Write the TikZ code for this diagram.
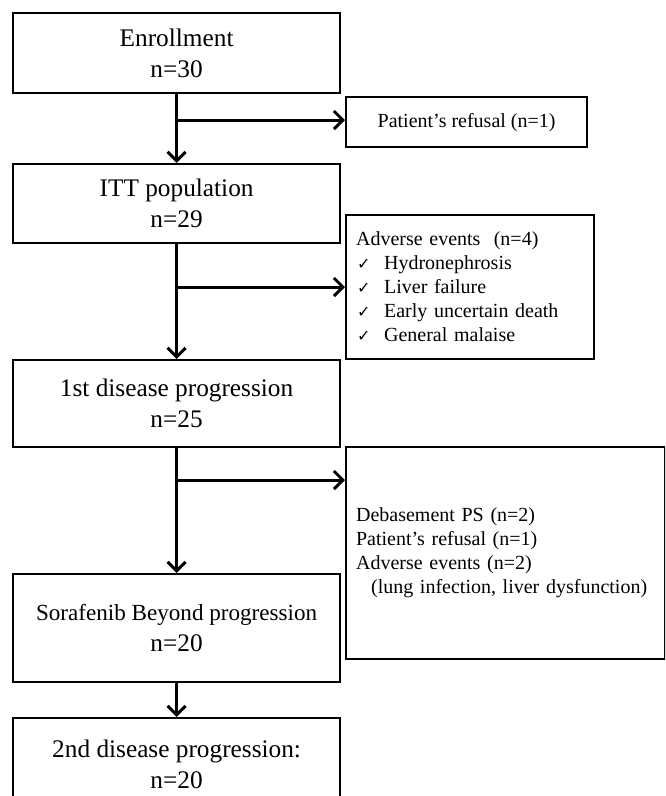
\documentclass[tikz,border=0pt]{standalone}
\usepackage{fontspec}
\setmainfont{Liberation Serif}
\newfontfamily\djv{DejaVu Sans}
\usetikzlibrary{arrows.meta}
\begin{document}
\begin{tikzpicture}[x=1pt,y=-1pt,
  mainbox/.style={draw, line width=2.2pt, minimum width=327pt, anchor=north west, align=center, font=\fontsize{25.3}{31}\selectfont, inner sep=0pt},
  sidebox/.style={draw, line width=2.2pt, anchor=north west, inner xsep=10pt, inner ysep=0pt, font=\fontsize{20}{24}\selectfont},
  arr/.style={line width=3pt, -{Straight Barb[length=9pt,width=18pt]}}
]
\useasboundingbox (0,0) rectangle (665,796);
\fill[white] (0,0) rectangle (665,796);
\clip (0,0) rectangle (665,796);
\newcommand{\ck}{\makebox[28pt][l]{\hspace{1pt}\djv\fontsize{16}{24}\selectfont ✓}}
% main column
\node[mainbox, minimum height=80pt] (enr) at (12,12) {Enrollment\\n=30};
\node[mainbox, minimum height=79pt] (itt) at (12,163) {ITT population\\n=29};
\node[mainbox, minimum height=87pt] (dp1) at (12,359) {1st disease progression\\n=25};
\node[mainbox, minimum height=108pt] (sbp) at (12,573) {{\fontsize{23.1}{31}\selectfont Sorafenib Beyond progression}\\n=20};
\node[mainbox, minimum height=92pt] (dp2) at (12,717) {2nd disease progression:\\n=20};
% side boxes
\node[sidebox, minimum width=241pt, minimum height=50pt, align=center] (ref) at (345,96) {Patient’s refusal (n=1)};
\node[sidebox, minimum width=248pt, minimum height=144pt, text width=228pt, align=left] (ae) at (345,214)
  {Adverse events\ \ (n=4)\\
   \ck Hydronephrosis\\
   \ck Liver failure\\
   \ck Early uncertain death\\
   \ck General malaise};
\node[sidebox, minimum width=319pt, minimum height=212pt, text width=299pt, align=left] (deb) at (345,446)
  {Debasement PS (n=2)\\
   Patient’s refusal (n=1)\\
   Adverse events (n=2)\\
   \hspace*{15pt}(lung infection, liver dysfunction)};
\coordinate (b1) at (345,120);
\coordinate (b2) at (345,287);
\coordinate (b3) at (345,480);
% connectors
\draw[arr] (enr.south) -- (itt.north);
\draw[arr] (itt.south) -- (dp1.north);
\draw[arr] (dp1.south) -- (sbp.north);
\draw[arr] (sbp.south) -- (dp2.north);
\draw[arr] (enr.south |- b1) -- (b1);
\draw[arr] (itt.south |- b2) -- (b2);
\draw[arr] (dp1.south |- b3) -- (b3);
\end{tikzpicture}
\end{document}
